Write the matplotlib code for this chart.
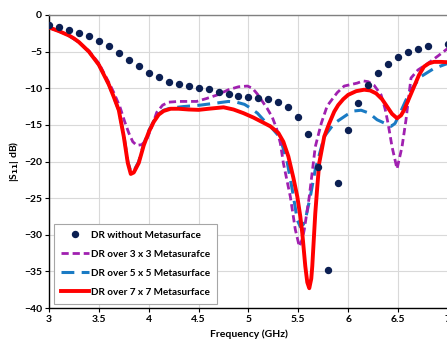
import numpy as np
import matplotlib
matplotlib.use("Agg")
import matplotlib.pyplot as plt

# ---- data ----
f_dots = [3.0, 3.1, 3.2, 3.3, 3.4, 3.5, 3.6, 3.7, 3.8, 3.9,
          4.0, 4.1, 4.2, 4.3, 4.4, 4.5, 4.6, 4.7, 4.8, 4.9,
          5.0, 5.1, 5.2, 5.3, 5.4, 5.5, 5.6, 5.7, 5.8, 5.9,
          6.0, 6.1, 6.2, 6.3, 6.4, 6.5, 6.6, 6.7, 6.8, 6.9, 7.0]
s_dots = [-1.3, -1.6, -2.0, -2.4, -2.9, -3.6, -4.3, -5.2, -6.1, -7.0,
          -7.9, -8.5, -9.1, -9.45, -9.7, -9.9, -10.15, -10.5, -10.8, -11.05,
          -11.25, -11.35, -11.5, -11.85, -12.6, -13.9, -16.2, -20.7, -34.8, -22.9,
          -15.7, -12.05, -9.55, -7.95, -6.7, -5.8, -5.1, -4.65, -4.3, np.nan, -3.9]

f_3x3 = [3.0, 3.1, 3.2, 3.3, 3.4, 3.5, 3.6, 3.65, 3.71, 3.76, 3.8, 3.84, 3.88, 3.93,
         3.98, 4.03, 4.08, 4.14, 4.2, 4.3, 4.48, 4.58, 4.69, 4.8, 4.9, 4.99, 5.04,
         5.09, 5.14, 5.19, 5.24, 5.28, 5.32, 5.35, 5.42, 5.47, 5.51, 5.54, 5.56, 5.61,
         5.67, 5.73, 5.79, 5.89, 5.96, 6.09, 6.15, 6.2, 6.26, 6.33, 6.37, 6.4, 6.44,
         6.49, 6.54, 6.58, 6.6, 6.63, 6.7, 6.8, 6.9, 7.0]
s_3x3 = [-1.7, -2.2, -2.8, -3.7, -4.9, -6.6, -9.2, -10.6, -12.5, -14.6, -16.1, -17.3, -17.8, -17.7,
         -17.0, -15.3, -13.3, -12.3, -11.9, -11.8, -11.8, -11.4, -10.9, -10.2, -9.8, -9.7, -10.0,
         -10.8, -11.8, -12.8, -14.0, -15.4, -17.5, -20.2, -24.8, -29.3, -31.6, -30.6, -29.3, -24.8,
         -18.0, -14.8, -12.4, -10.6, -9.7, -9.3, -9.0, -9.1, -9.6, -10.9, -12.8, -14.8, -18.0,
         -21.0, -18.0, -14.3, -12.0, -8.6, -7.5, -6.6, -5.6, -4.55]

f_5x5 = [3.0, 3.1, 3.2, 3.3, 3.4, 3.5, 3.6, 3.65, 3.7, 3.75, 3.79, 3.82, 3.85, 3.9,
         3.95, 4.0, 4.05, 4.1, 4.15, 4.22, 4.35, 4.52, 4.69, 4.8, 4.88, 4.96, 5.02,
         5.09, 5.15, 5.22, 5.29, 5.34, 5.39, 5.44, 5.49, 5.52, 5.55, 5.57, 5.62, 5.67,
         5.76, 5.86, 5.99, 6.06, 6.13, 6.21, 6.29, 6.37, 6.43, 6.47, 6.52, 6.58, 6.63,
         6.73, 6.86, 7.0]
s_5x5 = [-1.7, -2.2, -2.8, -3.7, -5.0, -6.8, -9.5, -11.2, -13.0, -16.4, -20.0, -21.4, -21.3, -20.0,
         -17.6, -15.8, -14.5, -13.5, -13.0, -12.7, -12.5, -12.3, -12.0, -11.8, -11.9, -12.2, -12.7,
         -13.4, -14.3, -15.2, -16.3, -17.8, -20.2, -23.9, -28.0, -28.9, -28.6, -28.0, -24.8, -21.1,
         -16.6, -14.8, -13.6, -13.1, -13.0, -13.4, -14.3, -14.8, -15.2, -14.8, -13.4, -11.6, -10.2,
         -8.4, -7.3, -6.6]

f_7x7 = [3.0, 3.1, 3.2, 3.25, 3.3, 3.4, 3.5, 3.6, 3.65, 3.7, 3.75, 3.79, 3.82, 3.85,
         3.9, 3.95, 4.0, 4.05, 4.1, 4.15, 4.22, 4.3, 4.4, 4.5, 4.6, 4.75, 4.85,
         4.95, 5.05, 5.15, 5.22, 5.3, 5.35, 5.4, 5.45, 5.49, 5.52, 5.54, 5.57, 5.59,
         5.61, 5.63, 5.64, 5.67, 5.69, 5.71, 5.76, 5.81, 5.86, 5.9, 5.95, 6.0, 6.08,
         6.16, 6.22, 6.28, 6.34, 6.39, 6.44, 6.49, 6.53, 6.56, 6.61, 6.66, 6.71, 6.76,
         6.81, 6.86, 6.93, 7.0]
s_7x7 = [-1.7, -2.2, -2.8, -3.2, -3.7, -5.0, -6.8, -9.5, -11.2, -13.0, -16.6, -20.2, -21.7, -21.5,
         -20.2, -17.8, -16.0, -14.6, -13.6, -13.1, -12.8, -12.8, -12.9, -12.95, -12.8, -12.6, -12.9,
         -13.4, -14.0, -14.7, -15.2, -16.1, -17.3, -19.3, -22.2, -24.8, -27.5, -29.8, -34.3, -36.5,
         -37.3, -36.0, -34.3, -27.1, -23.5, -20.2, -16.6, -14.8, -13.2, -12.3, -11.5, -10.9, -10.4,
         -10.2, -10.3, -10.7, -11.5, -12.5, -13.5, -14.1, -13.7, -13.0, -11.4, -9.8, -8.2, -7.05,
         -6.6, -6.4, -6.4, -6.45]

labels = ["DR without Metasurface", "DR over 3 x 3 Metasurafce",
          "DR over 5 x 5 Metasurface", "DR over 7 x 7 Metasurface"]
x_ticks = [3, 3.5, 4, 4.5, 5, 5.5, 6, 6.5, 7]
x_ticklabels = ["3", "3.5", "4", "4.5", "5", "5.5", "6", "6.5", "7"]
y_ticks = [0, -5, -10, -15, -20, -25, -30, -35, -40]

# ---- style ----
plt.rcParams['font.family'] = ['Lato', 'DejaVu Sans']
plt.rcParams['font.weight'] = 'bold'
FS = 7.5

fig = plt.figure(figsize=(4.47, 3.48), dpi=100)
ax = fig.add_axes([49/447, 1 - 308/348, 1 - 49/447 + 0.002, (308 - 15)/348])

ax.plot(f_dots, s_dots, linestyle='none', marker='o', markersize=4.3,
        color='#0B1F52', label=labels[0], zorder=5)
ax.plot(f_3x3, s_3x3, color='#A020B0', lw=2.0, dashes=(2.6, 1.4), label=labels[1], zorder=3)
ax.plot(f_5x5, s_5x5, color='#1A7BC4', lw=2.2, dashes=(4.2, 2.4), label=labels[2], zorder=2)
ax.plot(f_7x7, s_7x7, color='#FF0000', lw=2.8, label=labels[3], zorder=4)

ax.set_xlim(3, 7)
ax.set_ylim(-40, 0)
ax.set_xticks(x_ticks)
ax.set_xticklabels(x_ticklabels)
ax.set_yticks(y_ticks)
ax.grid(True, color='#D9D9D9', lw=0.8)
ax.set_axisbelow(True)

for s in ['left', 'bottom']:
    ax.spines[s].set_color('#000000')
    ax.spines[s].set_linewidth(1.0)
for s in ['top', 'right']:
    ax.spines[s].set_color('#808080')
    ax.spines[s].set_linewidth(1.0)

ax.tick_params(axis='both', labelsize=FS, length=3, width=0.8, direction='out', pad=2)
for lab in ax.get_xticklabels() + ax.get_yticklabels():
    lab.set_fontweight('bold')

ax.set_xlabel("Frequency (GHz)", fontsize=FS, fontweight='bold', labelpad=4)
ax.set_ylabel("|S$_{\\mathbf{11}}$| dB)", fontsize=FS, fontweight='bold', labelpad=2)

leg = ax.legend(loc='lower left', bbox_to_anchor=(0.013, 0.015),
                prop={'weight': 'bold', 'size': 7.2},
                frameon=True, fancybox=False, edgecolor='#A6A6A6', framealpha=1,
                handlelength=2.8, labelspacing=1.0, borderpad=0.7, handletextpad=0.2,
                borderaxespad=0)
leg.get_frame().set_linewidth(0.8)

fig.savefig("out.png", dpi=100)
